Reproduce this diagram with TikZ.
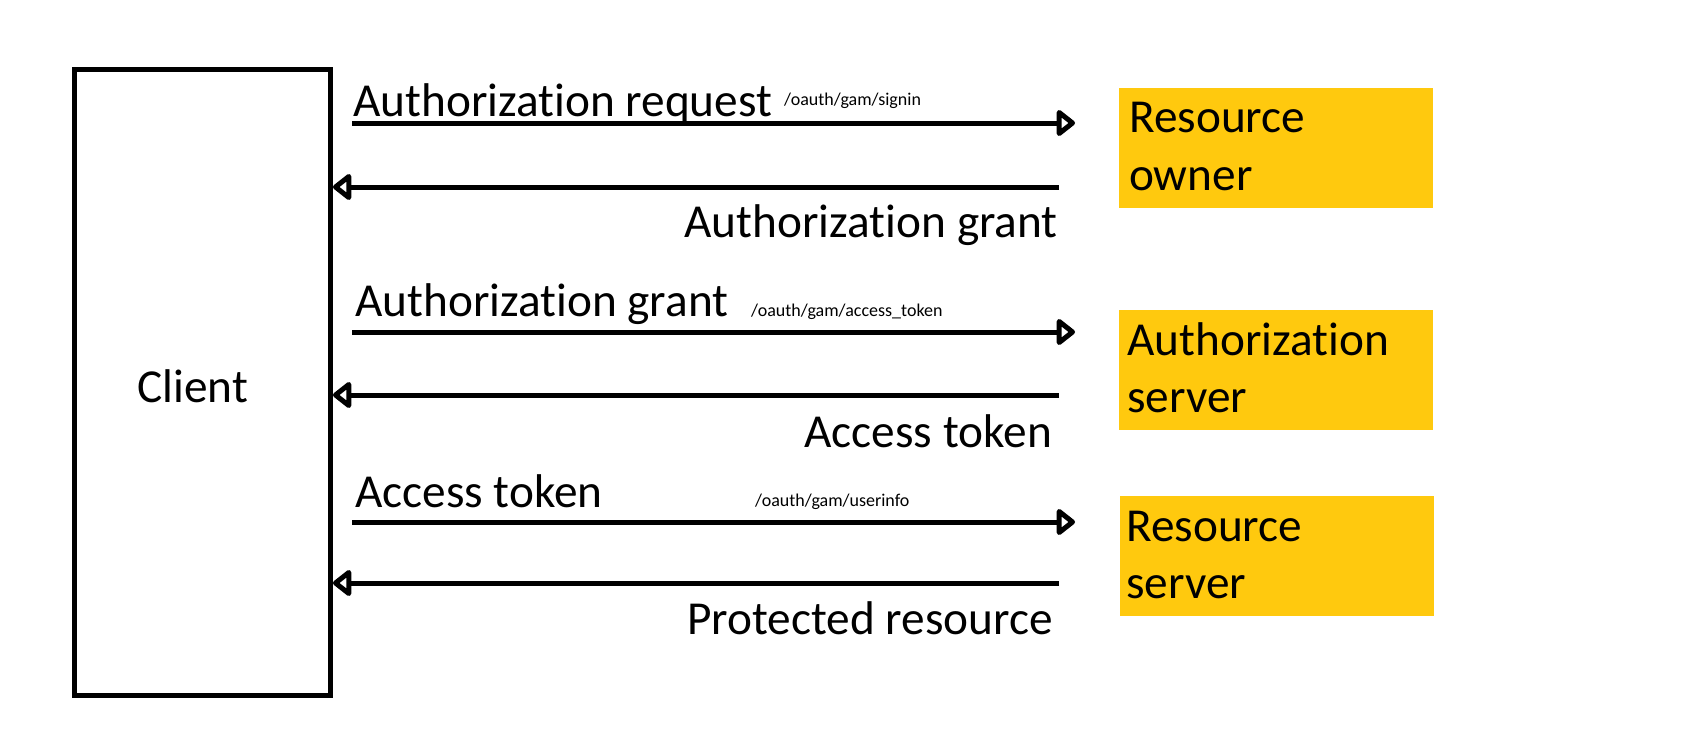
\documentclass[tikz,border=0pt]{standalone}
\usepackage{fontspec}
\setmainfont[Ligatures=NoCommon]{Carlito}
\usetikzlibrary{arrows.meta}
\definecolor{gold}{HTML}{FFC90E}
\begin{document}
\begin{tikzpicture}[x=1pt,y=-1pt,
  big/.style={font=\fontsize{47.3}{58}\selectfont, inner sep=0pt},
  small/.style={font=\fontsize{18}{22}\selectfont, inner sep=0pt},
  party/.style={fill=gold, draw=none, minimum width=314pt, minimum height=120pt, inner sep=0pt, anchor=north west},
  msg/.style={line width=5pt, -{Triangle[open,length=20pt,width=30pt,line width=5.5pt,line join=round]}},
]
\useasboundingbox (0,0) rectangle (1684,752);
% client
\node[draw, line width=5pt, minimum width=256pt, minimum height=626pt, inner sep=0pt] (client) at (202.5,382.5) {};
\node[big, anchor=base west] (clientlabel) at (137,402) {Client};
% parties
\node[party] (owner) at (1119,88) {};
\node[party] (authsrv) at (1119,310) {};
\node[party] (ressrv) at (1120,496) {};
\node[big, anchor=base west] (ownerl1) at (1129,132) {Resource};
\node[big, anchor=base west] (ownerl2) at (1129,190) {owner};
\node[big, anchor=base west] (authl1) at (1127,355) {Authorization};
\node[big, anchor=base west] (authl2) at (1127,412) {server};
\node[big, anchor=base west] (resl1) at (1126,541) {Resource};
\node[big, anchor=base west] (resl2) at (1126,598) {server};
% arrow end points
\coordinate (r1s) at (352,123);  \coordinate (r1e) at (1075,123);
\coordinate (l1s) at (1059,187); \coordinate (l1e) at (333,187);
\coordinate (r2s) at (352,332);  \coordinate (r2e) at (1075,332);
\coordinate (l2s) at (1059,395); \coordinate (l2e) at (333,395);
\coordinate (r3s) at (352,522);  \coordinate (r3e) at (1075,522);
\coordinate (l3s) at (1059,583); \coordinate (l3e) at (333,583);
\draw[msg] (r1s) -- (r1e);
\draw[msg] (l1s) -- (l1e);
\draw[msg] (r2s) -- (r2e);
\draw[msg] (l2s) -- (l2e);
\draw[msg] (r3s) -- (r3e);
\draw[msg] (l3s) -- (l3e);
% labels
\node[big, anchor=base west] (m1) at (353,116) {Authorization request};
\node[small, anchor=base west] (p1) at (784,106) {/oauth/gam/signin};
\node[big, anchor=base east] (m2) at (1058,237) {Authorization grant};
\node[big, anchor=base west] (m3) at (355,316) {Authorization grant};
\node[small, anchor=base west] (p2) at (751,316) {/oauth/gam/access\_token};
\node[big, anchor=base east] (m4) at (1052,447) {Access token};
\node[big, anchor=base west] (m5) at (355,507) {Access token};
\node[small, anchor=base west] (p3) at (755,506) {/oauth/gam/userinfo};
\node[big, anchor=base east] (m6) at (1053,634) {Protected resource};
\end{tikzpicture}
\end{document}
